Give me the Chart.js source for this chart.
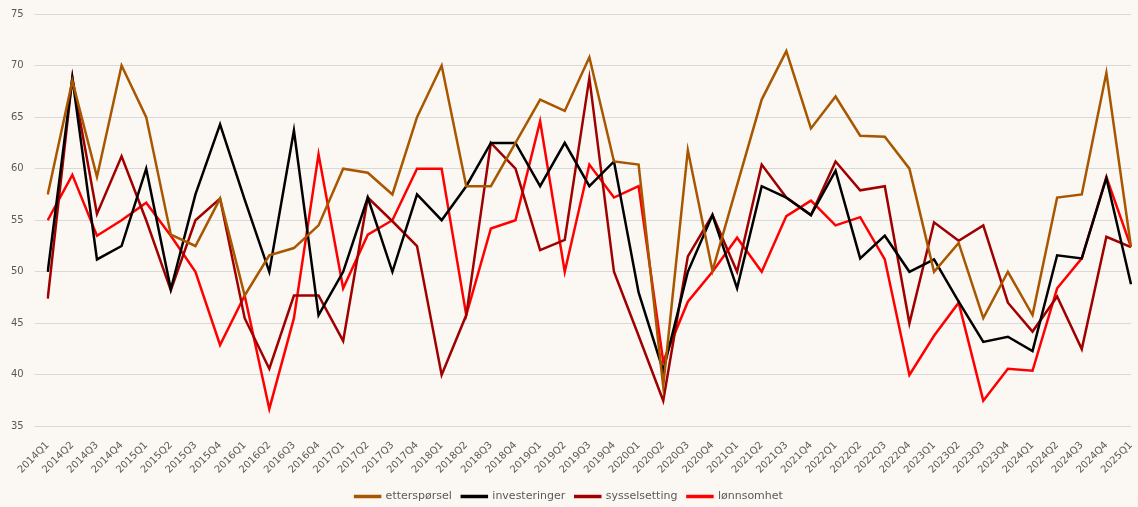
<!DOCTYPE html>
<html>
<head>
<meta charset="utf-8">
<script src="https://cdn.jsdelivr.net/npm/chart.js@4"></script>
<style>
  body { margin: 0; background: #FBF8F3; }
  #wrap { width: 1138px; height: 507px; position: relative; }
</style>
</head>
<body>
<div id="wrap"><canvas id="line-chartcanvas"></canvas></div>
<script>
// quarters 2014Q1 .. 2025Q1
var quarters = [
  "2014Q1","2014Q2","2014Q3","2014Q4","2015Q1","2015Q2","2015Q3","2015Q4",
  "2016Q1","2016Q2","2016Q3","2016Q4","2017Q1","2017Q2","2017Q3","2017Q4",
  "2018Q1","2018Q2","2018Q3","2018Q4","2019Q1","2019Q2","2019Q3","2019Q4",
  "2020Q1","2020Q2","2020Q3","2020Q4","2021Q1","2021Q2","2021Q3","2021Q4",
  "2022Q1","2022Q2","2022Q3","2022Q4","2023Q1","2023Q2","2023Q3","2023Q4",
  "2024Q1","2024Q2","2024Q3","2024Q4","2025Q1"
];

var ettersporsel = [
  57.5, 68.5, 59.2, 70.0, 65.0, 53.6, 52.5, 57.1, 47.7, 51.6, 52.3, 54.5,
  60.0, 59.6, 57.5, 65.0, 70.0, 58.3, 58.3, 62.5, 66.7, 65.6, 70.8, 60.7,
  60.4, 38.9, 61.8, 50.1, 58.4, 66.7, 71.4, 63.9, 67.0, 63.2, 63.1, 60.0,
  50.0, 52.8, 45.5, 50.0, 45.8, 57.2, 57.5, 69.3, 52.4
];

var investeringer = [
  50.0, 68.8, 51.2, 52.5, 60.0, 48.3, 57.5, 64.3, 57.0, 50.0, 63.7, 45.8,
  50.0, 57.2, 50.0, 57.5, 55.0, 58.3, 62.5, 62.5, 58.3, 62.5, 58.3, 60.7,
  48.0, 40.4, 50.0, 55.5, 48.4, 58.3, 57.2, 55.5, 59.8, 51.3, 53.5, 50.0,
  51.2, 47.1, 43.2, 43.7, 42.3, 51.6, 51.3, 59.1, 48.8
];

var sysselsetting = [
  47.4, 68.8, 55.6, 61.2, 55.0, 48.2, 55.0, 57.1, 45.5, 40.6, 47.7, 47.7,
  43.3, 57.2, 54.9, 52.5, 40.0, 45.8, 62.5, 60.0, 52.1, 53.1, 68.8, 50.0,
  43.8, 37.5, 51.5, 55.5, 50.0, 60.4, 57.2, 55.5, 60.7, 57.9, 58.3, 45.0,
  54.8, 53.0, 54.5, 47.0, 44.2, 47.6, 42.5, 53.4, 52.4
];

var lonnsomhet = [
  55.0, 59.4, 53.5, 55.0, 56.7, 53.5, 50.0, 42.9, 47.7, 36.7, 45.5, 61.4,
  48.4, 53.6, 55.0, 60.0, 60.0, 45.8, 54.2, 55.0, 64.6, 50.0, 60.4, 57.2,
  58.3, 41.3, 47.1, 50.0, 53.3, 50.0, 55.4, 56.9, 54.5, 55.3, 51.2, 40.0,
  43.8, 47.0, 37.5, 40.6, 40.4, 48.4, 51.3, 59.2, 52.4
];

var seriesNames = ["etterspørsel", "investeringer", "sysselsetting", "lønnsomhet"];
var seriesColors = ["#A85600", "#000000", "#A00000", "#FF0000"];

var yTicks = [35, 40, 45, 50, 55, 60, 65, 70, 75];

var textColor = "#595959";
var gridColor = "#D9D9D9";
var fontFamily = "'DejaVu Sans', sans-serif";

var allSeries = [ettersporsel, investeringer, sysselsetting, lonnsomhet];

var datasets = [];
for (var i = 0; i < allSeries.length; i++) {
  datasets.push({
    label: seriesNames[i],
    data: allSeries[i],
    borderColor: seriesColors[i],
    backgroundColor: seriesColors[i],
    borderWidth: 2.5,
    fill: false,
    tension: 0,
    pointRadius: 0,
    pointHoverRadius: 0
  });
}

var ctx = document.getElementById("line-chartcanvas");

var chart = new Chart(ctx, {
  type: "line",
  data: {
    labels: quarters,
    datasets: datasets
  },
  options: {
    responsive: true,
    maintainAspectRatio: false,
    animation: false,
    layout: {
      padding: { left: 0, right: 0, top: 14, bottom: -5 }
    },
    plugins: {
      legend: {
        display: true,
        position: "bottom",
        labels: {
          color: textColor,
          font: { family: fontFamily, size: 11 },
          boxWidth: 25,
          boxHeight: 1,
          padding: 10
        }
      },
      tooltip: { enabled: false }
    },
    scales: {
      x: {
        offset: false,
        grid: { display: false },
        border: { display: false },
        afterFit: function (axis) {
          // keep first/last quarter where the original puts them
          axis.paddingLeft = 47;
          axis.paddingRight = 7;
        },
        ticks: {
          color: textColor,
          font: { family: fontFamily, size: 10 },
          autoSkip: false,
          minRotation: 45,
          maxRotation: 45,
          padding: 5
        }
      },
      y: {
        min: yTicks[0],
        max: yTicks[yTicks.length - 1],
        afterBuildTicks: function (axis) {
          axis.ticks = yTicks.map(function (v) { return { value: v }; });
        },
        afterFit: function (axis) {
          axis.paddingTop = 0;
          axis.paddingBottom = 0;
        },
        grid: {
          color: gridColor,
          lineWidth: 1,
          drawTicks: true,
          tickLength: 13
        },
        border: { display: false },
        ticks: {
          color: textColor,
          font: { family: fontFamily, size: 10 },
          padding: 11
        }
      }
    }
  }
});
</script>
</body>
</html>
